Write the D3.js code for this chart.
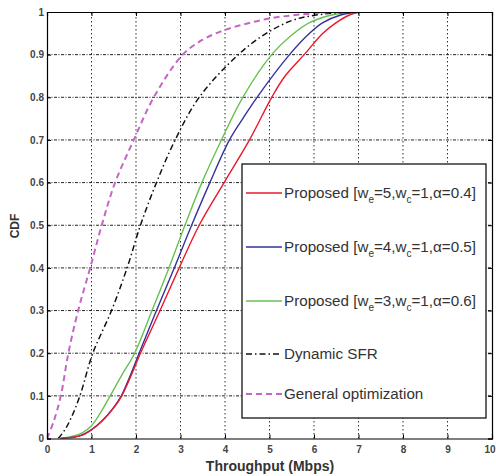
<!DOCTYPE html>
<html><head><meta charset="utf-8">
<script src="https://cdn.jsdelivr.net/npm/d3@7"></script>
<style>body{margin:0;background:#fff}svg{display:block}</style>
</head><body>
<svg id="c" width="496" height="476"></svg>
<script>
const xTicks = [0,1,2,3,4,5,6,7,8,9,10];
const xTickLabels = ["0","1","2","3","4","5","6","7","8","9","10"];
const yTicks = [0,0.1,0.2,0.3,0.4,0.5,0.6,0.7,0.8,0.9,1];
const yTickLabels = ["0","0.1","0.2","0.3","0.4","0.5","0.6","0.7","0.8","0.9","1"];

// [throughput, CDF]
const proposed5 = [[0.3,0],[0.6,0.003],[0.8,0.008],[1.0,0.02],[1.25,0.042],[1.5,0.072],[1.68,0.1],[1.9,0.15],[2.1,0.2],[2.54,0.3],[2.97,0.4],[3.42,0.5],[3.98,0.6],[4.55,0.7],[5.05,0.8],[5.35,0.85],[5.78,0.9],[6.2,0.95],[6.5,0.975],[6.8,0.993],[7.05,1],[10,1]];
const proposed4 = [[0.3,0],[0.6,0.003],[0.8,0.009],[1.0,0.021],[1.25,0.043],[1.5,0.073],[1.67,0.1],[1.88,0.15],[2.07,0.2],[2.46,0.3],[2.86,0.4],[3.25,0.5],[3.66,0.6],[4.1,0.7],[4.4,0.75],[4.72,0.8],[5.45,0.9],[5.9,0.95],[6.2,0.975],[6.6,0.993],[7.0,1],[10,1]];
const proposed3 = [[0.3,0],[0.6,0.006],[0.8,0.014],[1.0,0.03],[1.2,0.06],[1.42,0.1],[1.7,0.152],[1.97,0.2],[2.36,0.3],[2.74,0.4],[3.1,0.5],[3.48,0.6],[3.92,0.7],[4.4,0.8],[5.05,0.9],[5.55,0.95],[5.9,0.975],[6.4,0.993],[6.95,1],[10,1]];
const dynamicSFR = [[0.25,0],[0.4,0.02],[0.55,0.05],[0.74,0.1],[1.03,0.2],[1.45,0.3],[1.8,0.4],[2.1,0.5],[2.46,0.6],[2.88,0.7],[3.42,0.8],[4.3,0.9],[4.9,0.948],[5.5,0.98],[6.0,0.992],[6.5,0.998],[7.0,1],[10,1]];
const generalOpt = [[0,0],[0.15,0.04],[0.31,0.1],[0.48,0.2],[0.7,0.3],[0.97,0.4],[1.23,0.5],[1.53,0.6],[1.95,0.7],[2.4,0.8],[3.05,0.9],[3.5,0.935],[4.0,0.958],[4.5,0.973],[5.0,0.985],[5.5,0.992],[6.0,0.997],[6.5,1],[10,1]];

const seriesNames = ["Proposed","Proposed","Proposed","Dynamic SFR","General optimization"];
const seriesParams = [["5","0.4"],["4","0.5"],["3","0.6"],null,null];

const svg = d3.select("#c");
const x = d3.scaleLinear().domain([0,10]).range([47,492]);
const y = d3.scaleLinear().domain([0,1]).range([438.5,12]);

svg.append("defs").append("clipPath").attr("id","plot").append("rect")
  .attr("x",x(0)).attr("y",y(1)).attr("width",x(10)-x(0)).attr("height",y(0)-y(1));

// grid
const g = svg.append("g");
g.selectAll(".vg").data(xTicks.slice(1,-1)).join("line")
  .attr("x1",d=>x(d)).attr("x2",d=>x(d)).attr("y1",y(0)).attr("y2",y(1))
  .attr("stroke","#333").attr("stroke-width",1).attr("stroke-dasharray","1.5,2.5");
g.selectAll(".hg").data(yTicks.slice(1,-1)).join("line")
  .attr("x1",x(0)).attr("x2",x(10)).attr("y1",d=>y(d)).attr("y2",d=>y(d))
  .attr("stroke","#222").attr("stroke-width",1).attr("stroke-dasharray","3,1.5,1,1.5");

const line = d3.line().x(d=>x(d[0])).y(d=>y(d[1])).curve(d3.curveCatmullRom.alpha(0.5));
const styles = [
  {data:proposed5, color:"#e8192c", w:1.4, dash:null},
  {data:proposed4, color:"#333399", w:1.4, dash:null},
  {data:proposed3, color:"#66c24f", w:1.4, dash:null},
  {data:dynamicSFR, color:"#111", w:1.5, dash:"6,3,1.5,3"},
  {data:generalOpt, color:"#c466c4", w:2, dash:"6,4"}
];
const curves = svg.append("g").attr("clip-path","url(#plot)");
[2,1,0,3,4].forEach(i=>{
  const s = styles[i];
  curves.append("path").attr("d",line(s.data)).attr("fill","none")
    .attr("stroke",s.color).attr("stroke-width",s.w)
    .attr("stroke-dasharray",s.dash);
});

// axes (ticks inside on all sides)
const ax = svg.append("g").attr("font-family","Liberation Sans, Arial, sans-serif");
const bx = ax.append("g").attr("transform",`translate(0,${y(0)})`)
  .call(d3.axisBottom(x).tickValues(xTicks).tickSize(-4).tickPadding(7).tickFormat((d,i)=>xTickLabels[i]));
ax.append("g").attr("transform",`translate(0,${y(1)})`)
  .call(d3.axisTop(x).tickValues(xTicks).tickSize(-4).tickFormat(""));
ax.append("g").attr("transform",`translate(${x(0)},0)`)
  .call(d3.axisLeft(y).tickValues(yTicks).tickSize(-4).tickPadding(3).tickFormat((d,i)=>yTickLabels[i]));
ax.append("g").attr("transform",`translate(${x(10)},0)`)
  .call(d3.axisRight(y).tickValues(yTicks).tickSize(-4).tickFormat(""));
ax.selectAll(".domain").attr("stroke","#000").attr("stroke-width",1.2);
ax.selectAll(".tick line").attr("stroke","#000");
ax.selectAll(".tick text").attr("font-size",10).attr("font-weight","bold").attr("fill","#444");
bx.selectAll(".tick text").filter(d=>d===10).attr("dx",-2.5);

svg.append("text").attr("x",270).attr("y",471).attr("text-anchor","middle")
  .attr("font-family","Liberation Sans, Arial, sans-serif").attr("font-weight","bold")
  .attr("font-size",14).attr("fill","#333").text("Throughput (Mbps)");
svg.append("text").attr("transform","translate(19,226) rotate(-90)").attr("text-anchor","middle")
  .attr("font-family","Liberation Sans, Arial, sans-serif").attr("font-weight","bold")
  .attr("font-size",12).attr("fill","#333").text("CDF");

// legend
const lg = svg.append("g");
lg.append("rect").attr("x",242).attr("y",164).attr("width",244).attr("height",254)
  .attr("fill","#fff").attr("stroke","#000").attr("stroke-width",1.2);
const rowsY = [193,247,301,354,394];
styles.forEach((s,i)=>{
  const yy = rowsY[i];
  lg.append("line").attr("x1",246).attr("x2",282).attr("y1",yy).attr("y2",yy)
    .attr("stroke",s.color).attr("stroke-width",s.w).attr("stroke-dasharray",s.dash);
  const t = lg.append("text").attr("x",284).attr("y",yy+5)
    .attr("font-family","Liberation Sans, Arial, sans-serif").attr("font-size",15.2).attr("fill","#333");
  const p = seriesParams[i];
  if(p){
    t.append("tspan").text(seriesNames[i]+" [w");
    t.append("tspan").attr("font-size",10).attr("dy",5).text("e");
    t.append("tspan").attr("dy",-5).text("="+p[0]+",w");
    t.append("tspan").attr("font-size",10).attr("dy",5).text("c");
    t.append("tspan").attr("dy",-5).text("=1,\u03b1="+p[1]+"]");
  } else {
    t.text(seriesNames[i]);
  }
});
</script>
</body></html>
